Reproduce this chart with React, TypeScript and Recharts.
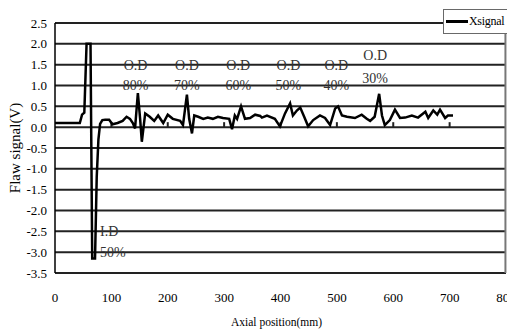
import { LineChart, Line, XAxis, YAxis, ReferenceLine, ReferenceDot, Legend } from "recharts";

const positions = [
  0, 44, 48, 52, 56, 63, 66, 71, 74, 77, 80, 84, 89, 96, 102, 111, 120, 127, 133, 138, 142, 147, 151, 154, 160, 168,
  176, 183, 192, 200, 209, 222, 227, 234, 238, 243, 247, 254, 263, 271, 280, 289, 298, 309, 314, 319, 323, 330, 337,
  346, 355, 364, 367, 376, 390, 399, 408, 417, 422, 429, 435, 442, 449, 458, 470, 479, 488, 497, 502, 509, 518, 532,
  544, 553, 559, 567, 575, 580, 585, 594, 603, 612, 621, 633, 644, 657, 662, 671, 678, 683, 692, 697, 706,
];
const xsignal = [
  0.1, 0.1, 0.3, 0.35, 2.0, 2.0, -3.15, -3.15, -1.2, -0.3, 0.08, 0.17, 0.18, 0.18, 0.07, 0.1, 0.15, 0.25, 0.2, 0.1,
  -0.03, 0.82, 0.2, -0.35, 0.33, 0.25, 0.15, 0.28, 0.1, 0.3, 0.2, 0.15, 0.05, 0.78, 0.2, -0.15, 0.28, 0.25, 0.2, 0.23,
  0.2, 0.25, 0.22, 0.2, -0.05, 0.28, 0.2, 0.5, 0.2, 0.22, 0.3, 0.27, 0.23, 0.28, 0.2, 0.02, 0.33, 0.57, 0.28, 0.4,
  0.47, 0.25, 0.02, 0.17, 0.28, 0.22, 0.05, 0.45, 0.5, 0.28, 0.25, 0.22, 0.3, 0.2, 0.15, 0.25, 0.8, 0.28, 0.05, 0.17,
  0.42, 0.22, 0.23, 0.28, 0.23, 0.37, 0.22, 0.4, 0.3, 0.42, 0.22, 0.28, 0.28,
];

const xTicks = [0, 100, 200, 300, 400, 500, 600, 700, 800];
const yTicks = [-3.5, -3.0, -2.5, -2.0, -1.5, -1.0, -0.5, 0, 0.5, 1.0, 1.5, 2.0, 2.5];
const innerTicks = [100, 200, 300, 400, 500, 600, 700];

// outer-diameter flaw notes: "O.D" above the depth
const odDepths = ["80%", "70%", "60%", "50%", "40%", "30%"];
const odX = [143, 234, 325, 414, 499, 568];
const odTopY = [1.5, 1.5, 1.5, 1.5, 1.5, 1.73];
const odBottomY = [1.0, 1.0, 1.0, 1.0, 1.0, 1.18];

// inner-diameter flaw note
const idX = 80;
const idLines = ["I.D", "50%"];
const idY = [-2.5, -3.0];

const data = positions.map((x, i) => ({ x, signal: xsignal[i] }));

const font = "'Liberation Serif', 'Times New Roman', serif";

function LegendBox() {
  return (
    <div
      style={{
        width: 67,
        height: 23,
        border: "1px solid dimgray",
        background: "white",
        display: "flex",
        alignItems: "center",
        fontFamily: font,
        fontSize: 12,
        letterSpacing: -0.3,
        color: "black",
        whiteSpace: "nowrap",
        overflow: "hidden",
      }}
    >
      <span style={{ display: "inline-block", width: 22, height: 2.5, background: "black", marginLeft: 2, marginRight: 1 }} />
      <span>Xsignal</span>
    </div>
  );
}

function YTitle({ viewBox }: any) {
  const cx = viewBox.x + 7;
  const cy = viewBox.y + viewBox.height / 2;
  return (
    <text x={cx} y={cy} transform={`rotate(-90, ${cx}, ${cy})`} textAnchor="middle" dominantBaseline="central" fontFamily={font} fontSize={15} fill="black">
      Flaw signal(V)
    </text>
  );
}

function XTitle({ viewBox }: any) {
  return (
    <text x={viewBox.x + viewBox.width / 2 - 4} y={viewBox.y + 49} textAnchor="middle" dominantBaseline="central" fontFamily={font} fontSize={11.5} fill="black">
      Axial position(mm)
    </text>
  );
}

export default function App() {
  const tickStyle = { fontSize: 13, fill: "black", fontFamily: font };
  const noteStyle = { fontSize: 14, fill: "#333333", fontFamily: font };

  return (
    <LineChart width={507} height={324} data={data} margin={{ top: 15, right: 9, left: 0, bottom: 0 }}>
      <XAxis
        dataKey="x"
        type="number"
        domain={[0, 800]}
        ticks={xTicks}
        height={59}
        axisLine={false}
        tickLine={false}
        tickSize={0}
        tickMargin={20}
        tick={tickStyle}
        interval={0}
        label={<XTitle />}
      />
      <YAxis
        type="number"
        domain={[-3.5, 2.5]}
        ticks={yTicks}
        width={47}
        axisLine={{ stroke: "black", strokeWidth: 1.5 }}
        tickLine={false}
        tickSize={0}
        tickMargin={8}
        tick={tickStyle}
        interval={0}
        tickFormatter={(v: number) => v.toFixed(1)}
        label={<YTitle />}
      />
      {yTicks.map((t) => (
        <ReferenceLine key={`g${t}`} y={t} stroke="#222222" strokeWidth={2} />
      ))}
      <ReferenceLine x={799} stroke="#777777" strokeWidth={2} />
      {innerTicks.map((t) => (
        <ReferenceLine key={`t${t}`} segment={[{ x: t, y: 0 }, { x: t, y: 0.12 }]} stroke="#222222" strokeWidth={2} />
      ))}
      {odDepths.map((d, i) => (
        <ReferenceDot key={`odt${d}`} x={odX[i]} y={odTopY[i]} r={0} stroke="none" label={{ value: "O.D", position: "center", ...noteStyle }} />
      ))}
      {odDepths.map((d, i) => (
        <ReferenceDot key={`odb${d}`} x={odX[i]} y={odBottomY[i]} r={0} stroke="none" label={{ value: d, position: "center", ...noteStyle }} />
      ))}
      {idLines.map((s, i) => (
        <ReferenceDot key={`id${s}`} x={idX} y={idY[i]} r={0} stroke="none" label={{ value: s, position: "right", offset: 0, ...noteStyle }} />
      ))}
      <Line type="linear" dataKey="signal" name="Xsignal" stroke="black" strokeWidth={2.5} dot={false} isAnimationActive={false} />
      <Legend
        layout="vertical"
        align="center"
        verticalAlign="middle"
        content={() => <LegendBox />}
        wrapperStyle={{ top: 1, left: 435, width: 69 }}
      />
    </LineChart>
  );
}
